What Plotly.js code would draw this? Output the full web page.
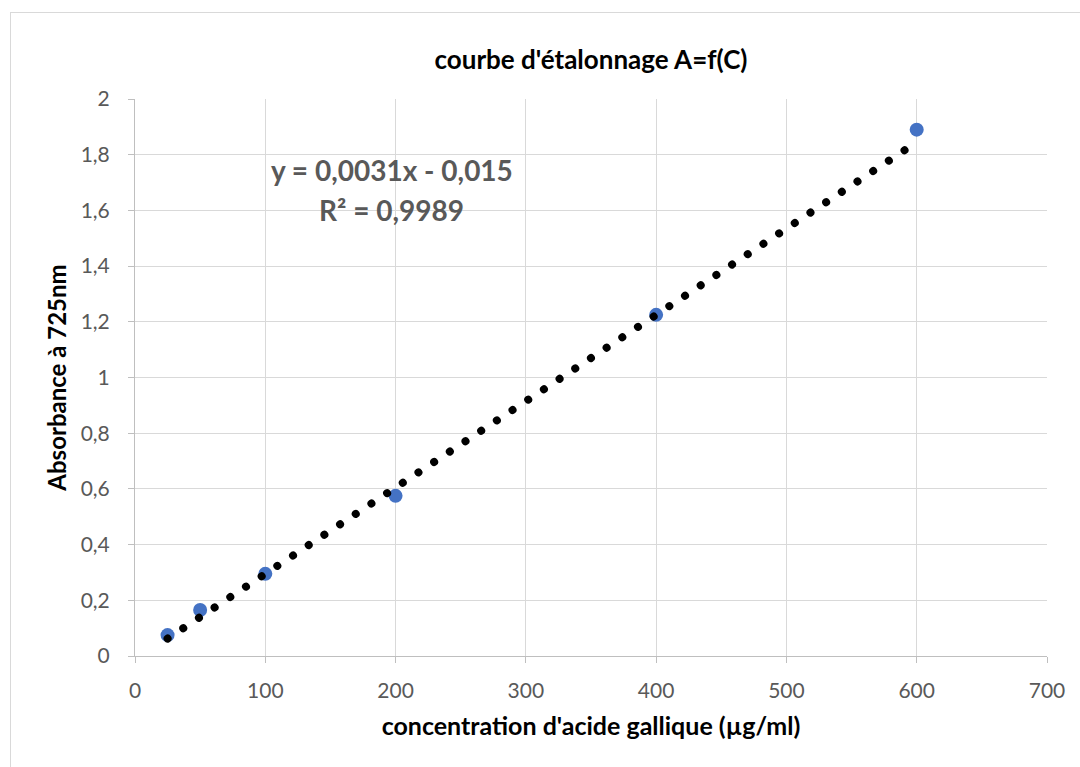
<!DOCTYPE html>
<html>
<head>
<meta charset="utf-8">
<script src="https://cdn.plot.ly/plotly-3.0.1.min.js"></script>
<style>
  html, body { margin: 0; padding: 0; background: #fff; }
  #wrap { position: relative; width: 1080px; height: 767px; overflow: hidden; }
  #chart { position: absolute; left: 0; top: 0; width: 1080px; height: 767px; }
  #frame { position: absolute; left: 10px; top: 12px; width: 1100px; height: 800px;
           border: 1px solid #d9d9d9; box-sizing: border-box; pointer-events: none; }
</style>
</head>
<body>
<div id="wrap">
  <div id="chart"></div>
  <div id="frame"></div>
</div>
<script>
// Data
const concentrations = [25, 50, 100, 200, 400, 600];
const absorbances = [0.075, 0.165, 0.295, 0.575, 1.225, 1.89];
// Linear trendline endpoints (y = 0,0031x - 0,015)
const trendX = [25, 600];
const trendY = [0.0625, 1.845];
const equationText = 'y = 0,0031x - 0,015';
const r2Text = 'R² = 0,9989';

const FONT = 'Lato, "Open Sans", "DejaVu Sans", sans-serif';

const traces = [
  {
    x: concentrations, y: absorbances,
    type: 'scatter', mode: 'markers',
    marker: { color: '#4472C4', size: 14 },
    hoverinfo: 'x+y', showlegend: false
  },
  {
    x: trendX, y: trendY,
    type: 'scatter', mode: 'lines',
    line: { color: '#000000', width: 8, dash: '8px,10.8px' },
    hoverinfo: 'skip', showlegend: false
  }
];

const layout = {
  width: 1080, height: 767,
  margin: { l: 135, r: 33, t: 99, b: 111 },
  paper_bgcolor: '#ffffff', plot_bgcolor: '#ffffff',
  separators: ', ',
  font: { family: FONT, color: '#595959', size: 21 },
  title: {
    text: "<b>courbe d'étalonnage A=f(C)</b>",
    font: { family: FONT, size: 26, color: '#000000' },
    x: 0.5, xref: 'paper', xanchor: 'center',
    y: 1 - 60 / 767, yref: 'container', yanchor: 'middle'
  },
  xaxis: {
    range: [0, 700], dtick: 100, tick0: 0,
    showgrid: true, gridcolor: '#d9d9d9', gridwidth: 1,
    zeroline: false, showline: true, linecolor: '#bfbfbf', linewidth: 1,
    ticks: 'outside', ticklen: 6, tickcolor: '#bfbfbf',
    ticklabelstandoff: 10,
    tickfont: { family: FONT, size: 21, color: '#595959' },
    title: { text: "<b>concentration d'acide gallique (µg/ml)</b>",
             font: { family: FONT, size: 25, color: '#000000' }, standoff: 16 },
    fixedrange: true
  },
  yaxis: {
    range: [0, 2], dtick: 0.2, tick0: 0,
    showgrid: true, gridcolor: '#d9d9d9', gridwidth: 1,
    zeroline: false, showline: true, linecolor: '#bfbfbf', linewidth: 1,
    ticks: 'outside', ticklen: 6, tickcolor: '#bfbfbf',
    ticklabelstandoff: 14,
    tickfont: { family: FONT, size: 21, color: '#595959' },
    title: { text: '<b>Absorbance à 725nm</b>',
             font: { family: FONT, size: 24, color: '#000000' }, standoff: 7 },
    fixedrange: true
  },
  annotations: [
    { text: '<b>' + equationText + '</b>', xref: 'x', yref: 'y', x: 197, y: 1.745,
      showarrow: false, xanchor: 'center', yanchor: 'middle',
      font: { family: FONT, size: 28, color: '#595959' } },
    { text: '<b>' + r2Text + '</b>', xref: 'x', yref: 'y', x: 197, y: 1.6,
      showarrow: false, xanchor: 'center', yanchor: 'middle',
      font: { family: FONT, size: 28, color: '#595959' } }
  ]
};

Plotly.newPlot('chart', traces, layout, { displayModeBar: false, staticPlot: true }).then(function (gd) {
  // Round dots for the trendline (Excel "round dot" style)
  const paths = gd.querySelectorAll('.scatterlayer .trace:nth-of-type(2) path.js-line');
  paths.forEach(function (p) {
    p.style.strokeLinecap = 'round';
    p.style.strokeDasharray = '0.01px,18.8px';
  });
});
</script>
</body>
</html>
